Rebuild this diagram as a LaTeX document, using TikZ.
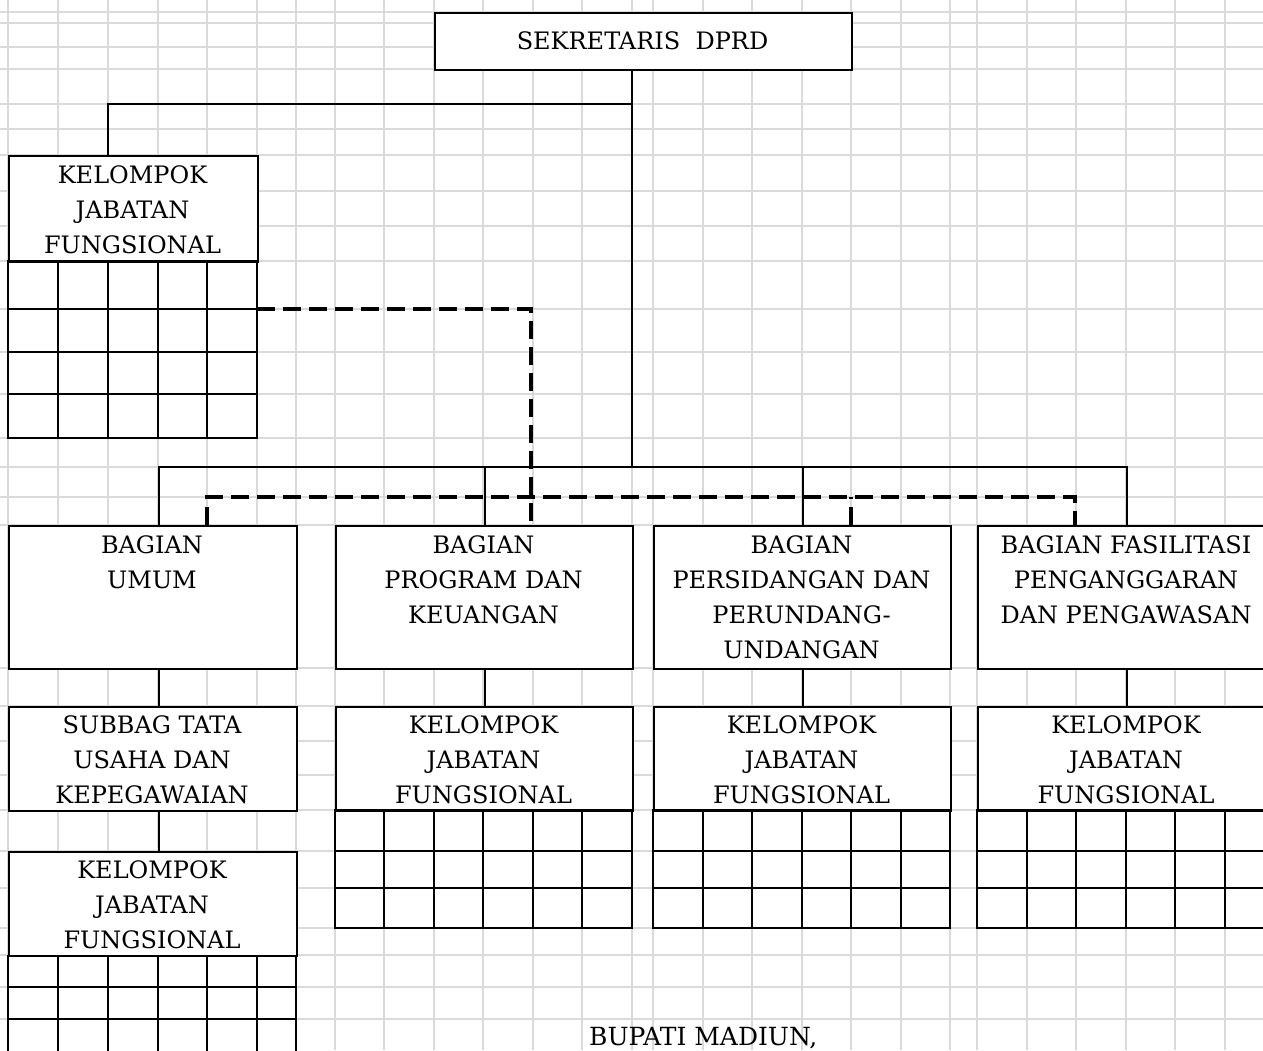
\documentclass[tikz,border=0pt]{standalone}
\usepackage{fontspec}
\setmainfont{DejaVu Serif}
\definecolor{gridgray}{HTML}{DADADA}
\begin{document}
\begin{tikzpicture}[x=1pt,y=-1pt,
  gridln/.style={draw=gridgray, line width=1.3pt},
  box/.style={draw=black, fill=white, line width=2pt, inner sep=0pt, anchor=north west},
  lbl/.style={anchor=north, inner sep=0pt, align=center, font=\fontsize{24}{35}\selectfont},
  conn/.style={draw=black, line width=2pt},
  dconn/.style={draw=black, line width=3.2pt, dash pattern=on 18pt off 8pt},
  cellln/.style={draw=black, line width=2pt}]
\useasboundingbox (0,0) rectangle (1263,1050);
\clip (0,0) rectangle (1263,1050);
\fill[white] (0,0) rectangle (1263,1050);
% background spreadsheet grid
\foreach \gx in {8,58,108,158,207,257,296,335,384,434,483,533,582,632,653,703,752,802,851,901,950,977,1027,1076,1126,1175,1225}
  \draw[gridln] (\gx,0) -- (\gx,1050);
\foreach \gy in {12,23,47,69,104,129,155,191,226,261,309,352,394,438,467,497,525,668,706,741,775,810,851,888,928,955,987,1019}
  \draw[gridln] (0,\gy) -- (1263,\gy);

% boxes
\node[box, minimum width=417pt, minimum height=57pt] (sek) at (434,12) {};
\node[box, minimum width=249pt, minimum height=106pt] (kjf0) at (8,155) {};
\node[box, minimum width=288pt, minimum height=143pt] (bag1) at (8,525) {};
\node[box, minimum width=297pt, minimum height=143pt] (bag2) at (335,525) {};
\node[box, minimum width=297pt, minimum height=143pt] (bag3) at (653,525) {};
\node[box, minimum width=298pt, minimum height=143pt] (bag4) at (977,525) {};
\node[box, minimum width=288pt, minimum height=104pt] (sub) at (8,706) {};
\node[box, minimum width=297pt, minimum height=104pt] (kjf2) at (335,706) {};
\node[box, minimum width=297pt, minimum height=104pt] (kjf3) at (653,706) {};
\node[box, minimum width=298pt, minimum height=104pt] (kjf4) at (977,706) {};
\node[box, minimum width=288pt, minimum height=104pt] (kjf1) at (8,851) {};

% cell grids under the KELOMPOK JABATAN FUNGSIONAL boxes
\draw[cellln] (8,261) rectangle (257,438);
\foreach \cx in {58,108,158,207} \draw[cellln] (\cx,261) -- (\cx,438);
\foreach \cy in {309,352,394} \draw[cellln] (8,\cy) -- (257,\cy);

\draw[cellln] (335,810) rectangle (632,928);
\foreach \cx in {384,434,483,533,582} \draw[cellln] (\cx,810) -- (\cx,928);
\foreach \cy in {851,888} \draw[cellln] (335,\cy) -- (632,\cy);

\draw[cellln] (653,810) rectangle (950,928);
\foreach \cx in {703,752,802,851,901} \draw[cellln] (\cx,810) -- (\cx,928);
\foreach \cy in {851,888} \draw[cellln] (653,\cy) -- (950,\cy);

\draw[cellln] (977,810) rectangle (1275,928);
\foreach \cx in {1027,1076,1126,1175,1225} \draw[cellln] (\cx,810) -- (\cx,928);
\foreach \cy in {851,888} \draw[cellln] (977,\cy) -- (1275,\cy);

\draw[cellln] (8,955) -- (8,1060) (296,955) -- (296,1060);
\foreach \cx in {58,108,158,207,257} \draw[cellln] (\cx,955) -- (\cx,1060);
\foreach \cy in {987,1019} \draw[cellln] (8,\cy) -- (296,\cy);

% labels
\node[lbl, anchor=center] (tsek) at (642.5,40.5) {SEKRETARIS\ \ DPRD};
\node[lbl] (tk0) at (132.5,165) {KELOMPOK\\JABATAN\\FUNGSIONAL};
\node[lbl] (tb1) at (152,535) {BAGIAN\\UMUM};
\node[lbl] (tb2) at (483.5,535) {BAGIAN\\PROGRAM DAN\\KEUANGAN};
\node[lbl] (tb3) at (801.5,535) {BAGIAN\\PERSIDANGAN DAN\\PERUNDANG-\\UNDANGAN};
\node[lbl] (tb4) at (1126,535) {BAGIAN FASILITASI\\PENGANGGARAN\\DAN PENGAWASAN};
\node[lbl] (tsub) at (152,715) {SUBBAG TATA\\USAHA DAN\\KEPEGAWAIAN};
\node[lbl] (tk2) at (483.5,715) {KELOMPOK\\JABATAN\\FUNGSIONAL};
\node[lbl] (tk3) at (801.5,715) {KELOMPOK\\JABATAN\\FUNGSIONAL};
\node[lbl] (tk4) at (1126,715) {KELOMPOK\\JABATAN\\FUNGSIONAL};
\node[lbl] (tk1) at (152,860) {KELOMPOK\\JABATAN\\FUNGSIONAL};
\node[lbl, anchor=base west, font=\fontsize{25}{35}\selectfont] (bupati) at (589,1045) {BUPATI MADIUN,};

% solid connectors
\coordinate (trunk) at (632,467);
\coordinate (kbend) at (632,104);
\draw[conn] (sek.south -| trunk) -- (trunk);
\draw[conn] (kbend) -| ([xshift=100pt]kjf0.north west);
\draw[conn] ([xshift=6pt]bag1.north) |- (bag4.north |- trunk) -- (bag4.north);
\draw[conn] (bag2.north) -- (bag2.north |- trunk);
\draw[conn] (bag3.north) -- (bag3.north |- trunk);
\draw[conn] ([xshift=6pt]bag1.south) -- ([xshift=6pt]sub.north);
\draw[conn] (bag2.south) -- (kjf2.north);
\draw[conn] (bag3.south) -- (kjf3.north);
\draw[conn] (bag4.south) -- (kjf4.north);
\draw[conn] ([xshift=6pt]sub.south) -- ([xshift=6pt]kjf1.north);

% dashed (functional) connectors
\coordinate (dbus) at (531,497);
\draw[dconn] (257,309) -| (bag2.north -| dbus);
\draw[dconn] ([xshift=199pt]bag1.north west) |- (dbus) -| ([xshift=98pt]bag4.north west);
\draw[dconn] ([xshift=198pt]bag3.north west) -- ([xshift=198pt]bag3.north west |- dbus);
\end{tikzpicture}
\end{document}
